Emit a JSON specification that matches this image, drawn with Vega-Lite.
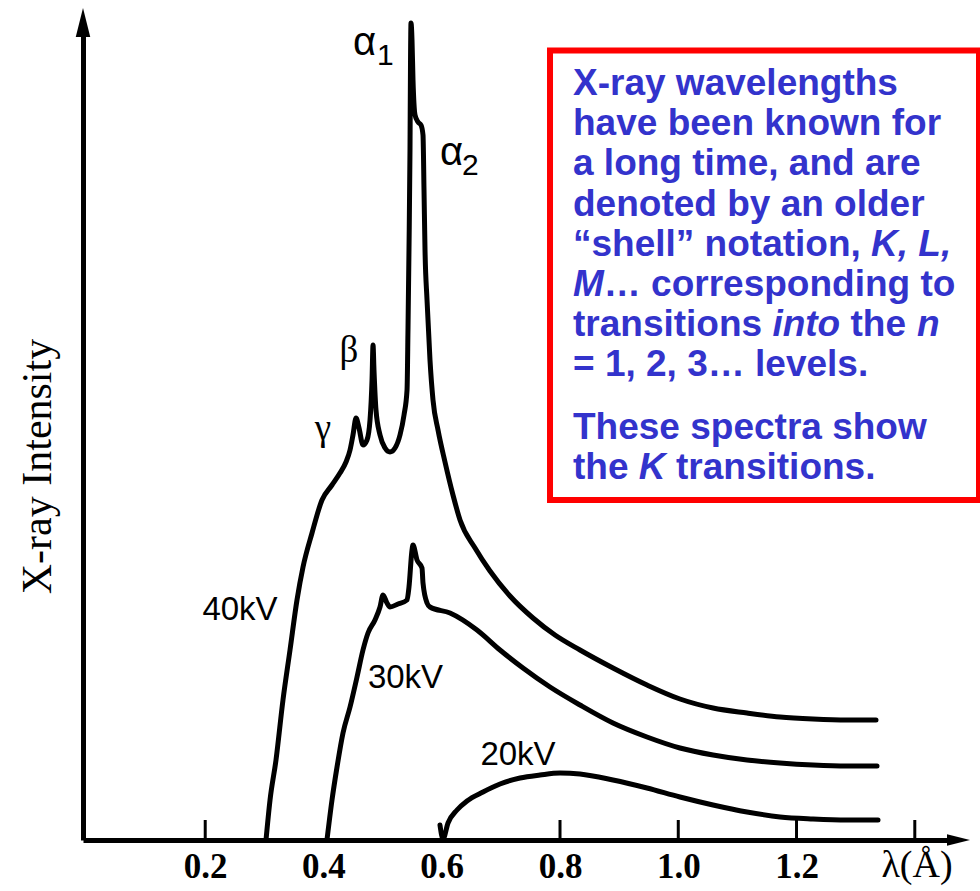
{
  "$schema": "https://vega.github.io/schema/vega-lite/v6.json",
  "width": 872,
  "height": 820,
  "padding": {"left": 83, "top": 20, "right": 25, "bottom": 51},
  "autosize": {"type": "none"},
  "background": "white",
  "config": {"view": {"stroke": null}},
  "datasets": {
    "spectra": [
      {"series":"40kV","lam":0.3028,"I":0},
      {"series":"40kV","lam":0.3096,"I":4.878},
      {"series":"40kV","lam":0.3197,"I":9.756},
      {"series":"40kV","lam":0.3315,"I":17.073},
      {"series":"40kV","lam":0.3434,"I":23.171},
      {"series":"40kV","lam":0.3552,"I":29.268},
      {"series":"40kV","lam":0.3654,"I":33.293},
      {"series":"40kV","lam":0.3806,"I":37.439},
      {"series":"40kV","lam":0.3975,"I":41.463},
      {"series":"40kV","lam":0.4144,"I":43.293},
      {"series":"40kV","lam":0.4279,"I":44.756},
      {"series":"40kV","lam":0.4381,"I":46.098},
      {"series":"40kV","lam":0.4449,"I":47.561},
      {"series":"40kV","lam":0.4499,"I":49.390},
      {"series":"40kV","lam":0.4550,"I":51.463},
      {"series":"40kV","lam":0.4601,"I":50.244},
      {"series":"40kV","lam":0.4668,"I":48.171},
      {"series":"40kV","lam":0.4736,"I":48.780},
      {"series":"40kV","lam":0.4787,"I":51.220},
      {"series":"40kV","lam":0.4821,"I":56.098},
      {"series":"40kV","lam":0.4838,"I":60.366},
      {"series":"40kV","lam":0.4854,"I":57.317},
      {"series":"40kV","lam":0.4888,"I":52.439},
      {"series":"40kV","lam":0.4956,"I":49.390},
      {"series":"40kV","lam":0.5041,"I":47.805},
      {"series":"40kV","lam":0.5125,"I":47.317},
      {"series":"40kV","lam":0.5210,"I":47.805},
      {"series":"40kV","lam":0.5294,"I":49.390},
      {"series":"40kV","lam":0.5362,"I":51.829},
      {"series":"40kV","lam":0.5413,"I":54.878},
      {"series":"40kV","lam":0.5429,"I":62.195},
      {"series":"40kV","lam":0.5446,"I":71.951},
      {"series":"40kV","lam":0.5463,"I":84.146},
      {"series":"40kV","lam":0.5472,"I":95.122},
      {"series":"40kV","lam":0.5480,"I":99.634},
      {"series":"40kV","lam":0.5497,"I":97.561},
      {"series":"40kV","lam":0.5514,"I":92.683},
      {"series":"40kV","lam":0.5548,"I":88.415},
      {"series":"40kV","lam":0.5599,"I":87.561},
      {"series":"40kV","lam":0.5649,"I":87.195},
      {"series":"40kV","lam":0.5683,"I":85.976},
      {"series":"40kV","lam":0.5700,"I":79.268},
      {"series":"40kV","lam":0.5717,"I":71.951},
      {"series":"40kV","lam":0.5751,"I":65.854},
      {"series":"40kV","lam":0.5801,"I":58.537},
      {"series":"40kV","lam":0.5852,"I":53.659},
      {"series":"40kV","lam":0.5937,"I":50.000},
      {"series":"40kV","lam":0.6055,"I":46.098},
      {"series":"40kV","lam":0.6190,"I":42.073},
      {"series":"40kV","lam":0.6309,"I":39.024},
      {"series":"40kV","lam":0.6563,"I":35.610},
      {"series":"40kV","lam":0.6816,"I":32.805},
      {"series":"40kV","lam":0.7154,"I":29.756},
      {"series":"40kV","lam":0.7543,"I":27.073},
      {"series":"40kV","lam":0.7915,"I":25.000},
      {"series":"40kV","lam":0.8338,"I":23.171},
      {"series":"40kV","lam":0.8896,"I":20.976},
      {"series":"40kV","lam":0.9471,"I":18.902},
      {"series":"40kV","lam":1.0029,"I":17.195},
      {"series":"40kV","lam":1.0588,"I":16.098},
      {"series":"40kV","lam":1.1163,"I":15.488},
      {"series":"40kV","lam":1.1721,"I":15.000},
      {"series":"40kV","lam":1.2279,"I":14.756},
      {"series":"40kV","lam":1.2854,"I":14.634},
      {"series":"40kV","lam":1.3344,"I":14.634},
      {"series":"30kV","lam":0.4059,"I":0},
      {"series":"30kV","lam":0.4144,"I":4.878},
      {"series":"30kV","lam":0.4229,"I":8.902},
      {"series":"30kV","lam":0.4330,"I":13.049},
      {"series":"30kV","lam":0.4449,"I":16.220},
      {"series":"30kV","lam":0.4567,"I":19.878},
      {"series":"30kV","lam":0.4668,"I":23.171},
      {"series":"30kV","lam":0.4753,"I":25.244},
      {"series":"30kV","lam":0.4871,"I":26.829},
      {"series":"30kV","lam":0.4956,"I":28.415},
      {"series":"30kV","lam":0.5007,"I":29.878},
      {"series":"30kV","lam":0.5074,"I":28.902},
      {"series":"30kV","lam":0.5125,"I":28.415},
      {"series":"30kV","lam":0.5260,"I":28.780},
      {"series":"30kV","lam":0.5413,"I":29.268},
      {"series":"30kV","lam":0.5446,"I":30.854},
      {"series":"30kV","lam":0.5497,"I":35.366},
      {"series":"30kV","lam":0.5514,"I":35.976},
      {"series":"30kV","lam":0.5582,"I":34.146},
      {"series":"30kV","lam":0.5666,"I":33.171},
      {"series":"30kV","lam":0.5683,"I":31.341},
      {"series":"30kV","lam":0.5751,"I":28.902},
      {"series":"30kV","lam":0.5801,"I":28.415},
      {"series":"30kV","lam":0.6140,"I":27.683},
      {"series":"30kV","lam":0.6596,"I":25.610},
      {"series":"30kV","lam":0.6985,"I":23.171},
      {"series":"30kV","lam":0.7374,"I":20.976},
      {"series":"30kV","lam":0.7831,"I":18.659},
      {"series":"30kV","lam":0.8338,"I":16.463},
      {"series":"30kV","lam":0.8896,"I":14.268},
      {"series":"30kV","lam":0.9471,"I":12.561},
      {"series":"30kV","lam":1.0029,"I":11.220},
      {"series":"30kV","lam":1.0588,"I":10.366},
      {"series":"30kV","lam":1.1163,"I":9.756},
      {"series":"30kV","lam":1.1721,"I":9.390},
      {"series":"30kV","lam":1.2279,"I":9.146},
      {"series":"30kV","lam":1.2854,"I":9.024},
      {"series":"30kV","lam":1.3361,"I":9.024},
      {"series":"20kV","lam":0.5970,"I":1.829},
      {"series":"20kV","lam":0.6021,"I":0.122},
      {"series":"20kV","lam":0.6106,"I":2.073},
      {"series":"20kV","lam":0.6258,"I":3.659},
      {"series":"20kV","lam":0.6427,"I":4.756},
      {"series":"20kV","lam":0.6698,"I":5.854},
      {"series":"20kV","lam":0.6985,"I":6.829},
      {"series":"20kV","lam":0.7324,"I":7.561},
      {"series":"20kV","lam":0.7662,"I":7.927},
      {"series":"20kV","lam":0.8000,"I":8.171},
      {"series":"20kV","lam":0.8338,"I":8.049},
      {"series":"20kV","lam":0.8896,"I":7.317},
      {"series":"20kV","lam":0.9471,"I":6.341},
      {"series":"20kV","lam":1.0029,"I":5.244},
      {"series":"20kV","lam":1.0588,"I":4.268},
      {"series":"20kV","lam":1.1163,"I":3.415},
      {"series":"20kV","lam":1.1721,"I":2.805},
      {"series":"20kV","lam":1.2279,"I":2.561},
      {"series":"20kV","lam":1.2854,"I":2.439},
      {"series":"20kV","lam":1.3378,"I":2.439}
    ],
    "ticks": [{"lam":0.2,"I":0,"I2":2.44},{"lam":0.8,"I":0,"I2":2.44},{"lam":1.0,"I":0,"I2":2.44},{"lam":1.2,"I":0,"I2":2.44},{"lam":1.4,"I":0,"I2":2.44}],
    "arrows": [
      {"dir":"x","lam":1.4739,"I":0},
      {"dir":"y","lam":-0.0067,"I":99.695}
    ],
    "box": [{"lam":0.7831,"lam2":1.5086,"I":96.280,"I2":41.463}],
    "labels": [
      {"kind":"alpha","text":"α","lam":0.4499,"I":95.732},
      {"kind":"alpha","text":"α","lam":0.5971,"I":82.317},
      {"kind":"sub","text":"1","lam":0.4905,"I":94.512},
      {"kind":"sub","text":"2","lam":0.6343,"I":81.098},
      {"kind":"kv","text":"40kV","lam":0.2588,"I":26.829},
      {"kind":"kv","text":"30kV","lam":0.5387,"I":18.537},
      {"kind":"kv","text":"20kV","lam":0.7290,"I":9.146},
      {"kind":"serif","text":"β","lam":0.4432,"I":58.293},
      {"kind":"serif","text":"γ","lam":0.3992,"I":48.780},
      {"kind":"unit","text":"λ(Å)","lam":1.4038,"I":-4.512}
    ],
    "note": [
      {"style":"upright","text":"X-ray wavelengths","lam":0.8220,"I":90.854},
      {"style":"upright","text":"have been known for","lam":0.8220,"I":85.951},
      {"style":"upright","text":"a long time, and are","lam":0.8220,"I":81.049},
      {"style":"upright","text":"denoted by an older","lam":0.8220,"I":76.146},
      {"style":"upright","text":"“shell” notation,","lam":0.8220,"I":71.244},
      {"style":"italic","text":"K, L,","lam":1.3261,"I":71.244},
      {"style":"italic","text":"M","lam":0.8220,"I":66.341},
      {"style":"upright","text":"… corresponding to","lam":0.8741,"I":66.341},
      {"style":"upright","text":"transitions","lam":0.8220,"I":61.439},
      {"style":"italic","text":"into","lam":1.1592,"I":61.439},
      {"style":"upright","text":"the","lam":1.2913,"I":61.439},
      {"style":"italic","text":"n","lam":1.4038,"I":61.439},
      {"style":"upright","text":"= 1, 2, 3… levels.","lam":0.8220,"I":56.537},
      {"style":"upright","text":"These spectra show","lam":0.8220,"I":48.902},
      {"style":"upright","text":"the","lam":0.8220,"I":44.024},
      {"style":"italic","text":"K","lam":0.9333,"I":44.024},
      {"style":"upright","text":"transitions.","lam":0.9962,"I":44.024}
    ]
  },
  "layer": [
    {
      "data": {"name": "spectra"},
      "mark": {"type": "line", "interpolate": "monotone", "color": "black", "strokeWidth": 5, "strokeCap": "round", "strokeJoin": "round"},
      "encoding": {
        "x": {
          "field": "lam", "type": "quantitative",
          "scale": {"domain": [-0.0067, 1.468], "nice": false, "zero": false},
          "axis": {
            "title": null, "values": [0.2, 0.4, 0.6, 0.8, 1.0, 1.2], "format": ".1f",
            "ticks": false, "tickSize": 0, "labelPadding": 9,
            "labelFont": "Liberation Serif", "labelFontWeight": "bold", "labelFontSize": 35,
            "labelColor": "black", "domainColor": "black", "domainWidth": 5,
            "grid": false, "labelFlush": false, "labelOverlap": false
          }
        },
        "y": {
          "field": "I", "type": "quantitative",
          "scale": {"domain": [0, 100], "nice": false},
          "axis": {
            "title": "X-ray Intensity", "ticks": false, "labels": false, "grid": false,
            "domainColor": "black", "domainWidth": 5,
            "titleFont": "Liberation Serif", "titleFontSize": 42, "titleFontWeight": "normal",
            "titleColor": "black", "titleAngle": 270, "titleBaseline": "bottom", "titleAlign": "center",
            "titleX": -24, "titleY": 446
          }
        },
        "detail": {"field": "series", "type": "nominal"}
      }
    },
    {
      "data": {"name": "box"},
      "mark": {"type": "rect", "fill": "white", "stroke": "#FF0000", "strokeWidth": 6},
      "encoding": {
        "x": {"field": "lam", "type": "quantitative"},
        "x2": {"field": "lam2"},
        "y": {"field": "I", "type": "quantitative"},
        "y2": {"field": "I2"}
      }
    },
    {
      "data": {"name": "ticks"},
      "mark": {"type": "rule", "color": "black", "strokeWidth": 3},
      "encoding": {
        "x": {"field": "lam", "type": "quantitative"},
        "y": {"field": "I", "type": "quantitative"},
        "y2": {"field": "I2"}
      }
    },
    {
      "data": {"name": "arrows"},
      "mark": {"type": "point", "filled": true, "color": "black", "opacity": 1, "strokeWidth": 0},
      "encoding": {
        "x": {"field": "lam", "type": "quantitative"},
        "y": {"field": "I", "type": "quantitative"},
        "shape": {"field": "dir", "type": "nominal", "scale": {"domain": ["x", "y"], "range": ["M1,0L-1,-0.5L-1,0.5Z", "M0,-1L0.5,1L-0.5,1Z"]}, "legend": null},
        "size": {"field": "dir", "type": "nominal", "scale": {"domain": ["x", "y"], "range": [529, 841]}, "legend": null}
      }
    },
    {
      "data": {"name": "labels"},
      "transform": [{"filter": "datum.kind === 'alpha'"}],
      "mark": {"type": "text", "font": "Liberation Sans", "fontSize": 40, "align": "left", "baseline": "alphabetic", "color": "black"},
      "encoding": {
        "x": {"field": "lam", "type": "quantitative"},
        "y": {"field": "I", "type": "quantitative"},
        "text": {"field": "text"}
      }
    },
    {
      "data": {"name": "labels"},
      "transform": [{"filter": "datum.kind === 'sub'"}],
      "mark": {"type": "text", "font": "Liberation Sans", "fontSize": 30, "align": "left", "baseline": "alphabetic", "color": "black"},
      "encoding": {
        "x": {"field": "lam", "type": "quantitative"},
        "y": {"field": "I", "type": "quantitative"},
        "text": {"field": "text"}
      }
    },
    {
      "data": {"name": "labels"},
      "transform": [{"filter": "datum.kind === 'kv'"}],
      "mark": {"type": "text", "font": "Liberation Sans", "fontSize": 33, "align": "center", "baseline": "alphabetic", "color": "black"},
      "encoding": {
        "x": {"field": "lam", "type": "quantitative"},
        "y": {"field": "I", "type": "quantitative"},
        "text": {"field": "text"}
      }
    },
    {
      "data": {"name": "labels"},
      "transform": [{"filter": "datum.kind === 'serif'"}],
      "mark": {"type": "text", "font": "Liberation Serif", "fontSize": 37, "align": "center", "baseline": "alphabetic", "color": "black"},
      "encoding": {
        "x": {"field": "lam", "type": "quantitative"},
        "y": {"field": "I", "type": "quantitative"},
        "text": {"field": "text"}
      }
    },
    {
      "data": {"name": "labels"},
      "transform": [{"filter": "datum.kind === 'unit'"}],
      "mark": {"type": "text", "font": "Liberation Serif", "fontSize": 38, "align": "center", "baseline": "alphabetic", "color": "black"},
      "encoding": {
        "x": {"field": "lam", "type": "quantitative"},
        "y": {"field": "I", "type": "quantitative"},
        "text": {"field": "text"}
      }
    },
    {
      "data": {"name": "note"},
      "transform": [{"filter": "datum.style === 'upright'"}],
      "mark": {"type": "text", "font": "Liberation Sans", "fontSize": 37, "fontWeight": "bold", "align": "left", "baseline": "alphabetic", "color": "#3333CC"},
      "encoding": {
        "x": {"field": "lam", "type": "quantitative"},
        "y": {"field": "I", "type": "quantitative"},
        "text": {"field": "text"}
      }
    },
    {
      "data": {"name": "note"},
      "transform": [{"filter": "datum.style === 'italic'"}],
      "mark": {"type": "text", "font": "Liberation Sans", "fontSize": 37, "fontWeight": "bold", "fontStyle": "italic", "align": "left", "baseline": "alphabetic", "color": "#3333CC"},
      "encoding": {
        "x": {"field": "lam", "type": "quantitative"},
        "y": {"field": "I", "type": "quantitative"},
        "text": {"field": "text"}
      }
    }
  ]
}
